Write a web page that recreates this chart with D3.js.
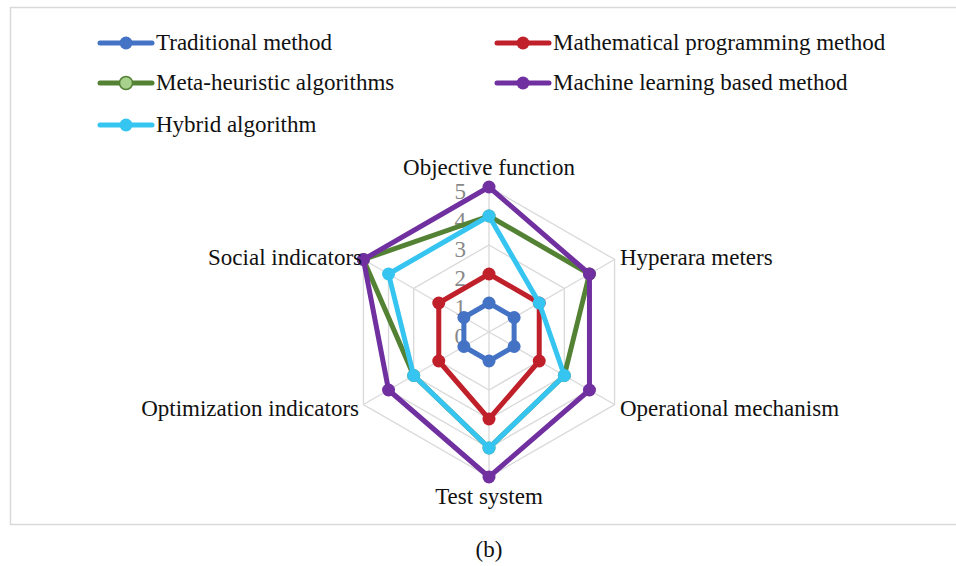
<!DOCTYPE html>
<html>
<head>
<meta charset="utf-8">
<script src="https://cdn.jsdelivr.net/npm/d3@7"></script>
<style>
  body { margin: 0; background: #fff; }
</style>
</head>
<body>
<svg id="chart" width="956" height="566" font-family="'Liberation Serif', 'Times New Roman', 'DejaVu Serif', serif"></svg>
<script>
// axes of the radar, clockwise from the top
var axes = ["Objective function", "Hyperara meters", "Operational mechanism",
            "Test system", "Optimization indicators", "Social indicators"];
var ticks = [0, 1, 2, 3, 4, 5];

var seriesNames = ["Traditional method", "Mathematical programming method",
                   "Meta-heuristic algorithms", "Machine learning based method",
                   "Hybrid algorithm"];
var traditional = [1, 1, 1, 1, 1, 1];
var mathProg    = [2, 2, 2, 3, 2, 2];
var metaHeur    = [4, 4, 3, 4, 3, 5];
var machineLrn  = [5, 4, 4, 5, 4, 5];
var hybrid      = [4, 2, 3, 4, 3, 4];
var colors = ["#4472c4", "#c0202a", "#548235", "#7030a0", "#36c5f0"];

var series = [traditional, mathProg, metaHeur, machineLrn, hybrid];

var svg = d3.select("#chart");
var cx = 489, cy = 332, R = 145;

// frame
svg.append("rect").attr("x", 10.5).attr("y", 7.5).attr("width", 960).attr("height", 517)
  .attr("fill", "none").attr("stroke", "#d9d9d9").attr("stroke-width", 1.5);

var r = d3.scaleLinear().domain([0, 5]).range([0, R]);
var ang = d3.scalePoint().domain(d3.range(axes.length)).range([0, 2 * Math.PI * (axes.length - 1) / axes.length]);

function pt(i, v) {
  var a = ang(i);
  return [cx + r(v) * Math.sin(a), cy - r(v) * Math.cos(a)];
}

var g = svg.append("g");

// grid rings
ticks.slice(1).forEach(function(t) {
  g.append("path")
    .attr("d", d3.line()(axes.map(function(_, i) { return pt(i, t); })) + "Z")
    .attr("fill", "none").attr("stroke", "#d9d9d9").attr("stroke-width", 1.3);
});
// spokes
axes.forEach(function(_, i) {
  var p = pt(i, 5);
  g.append("line").attr("x1", cx).attr("y1", cy).attr("x2", p[0]).attr("y2", p[1])
    .attr("stroke", "#d9d9d9").attr("stroke-width", 1.3);
});

// tick labels
ticks.forEach(function(t) {
  g.append("text").attr("x", cx - 23).attr("y", cy - r(t) + 12)
    .attr("text-anchor", "end").attr("font-size", 23).attr("fill", "#888")
    .text(t);
});

// series
series.forEach(function(vals, k) {
  var pts = vals.map(function(v, i) { return pt(i, v); });
  g.append("path")
    .attr("d", d3.line()(pts) + "Z")
    .attr("fill", "none").attr("stroke", colors[k]).attr("stroke-width", 5)
    .attr("stroke-linejoin", "round");
  g.selectAll(null).data(pts).enter().append("circle")
    .attr("cx", function(d) { return d[0]; }).attr("cy", function(d) { return d[1]; })
    .attr("r", 6.5).attr("fill", colors[k]);
});

// axis labels
var labelPos = [
  { x: cx, y: 175, anchor: "middle" },
  { x: 620, y: 265, anchor: "start" },
  { x: 620, y: 416, anchor: "start" },
  { x: cx, y: 504, anchor: "middle" },
  { x: 359, y: 416, anchor: "end" },
  { x: 362, y: 265, anchor: "end" }
];
axes.forEach(function(a, i) {
  g.append("text").attr("x", labelPos[i].x).attr("y", labelPos[i].y)
    .attr("text-anchor", labelPos[i].anchor).attr("font-size", 23).attr("fill", "#111").text(a);
});

// legend
var legPos = [[100, 43], [497, 43], [100, 83], [497, 83], [100, 125]];
seriesNames.forEach(function(name, k) {
  var lg = svg.append("g").attr("transform", "translate(" + legPos[k][0] + "," + legPos[k][1] + ")");
  lg.append("line").attr("x1", 0).attr("x2", 52).attr("stroke", colors[k])
    .attr("stroke-width", 5).attr("stroke-linecap", "round");
  lg.append("circle").attr("cx", 26).attr("r", 6.5)
    .attr("fill", k === 2 ? "#a9d18e" : colors[k])
    .attr("stroke", colors[k]).attr("stroke-width", k === 2 ? 1.5 : 0);
  lg.append("text").attr("x", 56).attr("y", 7).attr("font-size", 23).attr("fill", "#111").text(name);
});

// caption
svg.append("text").attr("x", cx).attr("y", 557).attr("text-anchor", "middle")
  .attr("font-size", 23).attr("fill", "#111").text("(b)");
</script>
</body>
</html>
